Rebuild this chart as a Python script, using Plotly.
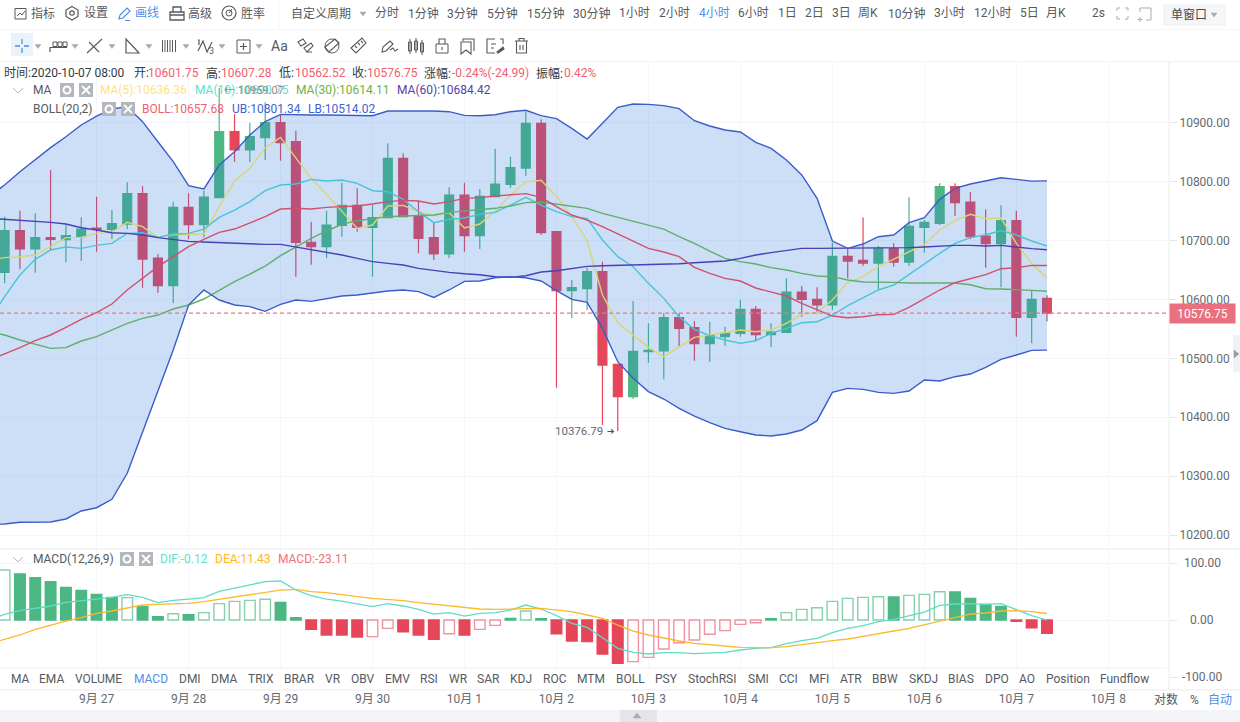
import re
import pandas as pd
import plotly.graph_objects as go
from plotly.subplots import make_subplots

W, H = 1240, 722
FONT = 'Roboto, "Noto Sans CJK SC", sans-serif'

# 4-hour bars, BTC/USDT style chart
times = pd.date_range("2020-09-25 20:00", periods=70, freq="4h")

opens = [10640, 10646.1, 10716.8, 10685.7, 10704.9, 10701.5, 10706.6, 10721.4, 10719.1, 10728.1, 10779.7, 10670.4, 10623.4, 10756.4, 10727.0,
         10772.9, 10884.9, 10853.8, 10874.7, 10900.2, 10867.9, 10697.0, 10689.7, 10725.9, 10759.8, 10722.5, 10738.9, 10839.6, 10741.2, 10704.9,
         10677.2, 10777.4, 10708.3, 10774.6, 10795.5, 10823.2, 10899.1, 10715.1, 10614.9, 10618.3, 10647.2, 10489.9, 10435.0, 10511.4, 10512.5,
         10569.1, 10552.1, 10524.9, 10536.8, 10542.5, 10583.2, 10540.2, 10544.2, 10612.7, 10600.2, 10590.6, 10673.2, 10666.4, 10661.9, 10686.2,
         10663.6, 10722.5, 10729.3, 10791.5, 10765.5, 10707.8, 10694.7, 10733.8, 10569.6, 10601.75]
highs = [10660, 10740.6, 10750.8, 10746.3, 10819.8, 10726.4, 10739.5, 10774.6, 10751.9, 10798.9, 10792.7, 10677.2, 10766.1, 10780.2, 10784.7,
         10959.07, 10915.0, 10900.2, 10935.0, 10913.2, 10886.6, 10731.5, 10750.8, 10798.3, 10788.7, 10760.4, 10865.1, 10848.1, 10767.2, 10730.4,
         10790.4, 10798.3, 10787.6, 10856.1, 10842.5, 10918.9, 10905.9, 10715.1, 10633.1, 10654.0, 10664.2, 10489.9, 10597.4, 10559.5, 10576.5,
         10576.5, 10563.4, 10562.3, 10553.8, 10599.1, 10588.9, 10559.5, 10635.9, 10622.9, 10620.6, 10696.4, 10686.8, 10739.4, 10690.8, 10695.3,
         10773.4, 10734.9, 10797.2, 10797.2, 10782.5, 10753.0, 10759.8, 10750.8, 10614.4, 10607.28]
lows = [10620, 10627.4, 10651.2, 10645.5, 10684.0, 10663.1, 10665.3, 10681.2, 10702.7, 10719.1, 10620.0, 10611.6, 10593.4, 10702.1, 10705.5,
        10772.9, 10834.0, 10832.9, 10836.8, 10835.7, 10638.7, 10659.1, 10669.9, 10706.6, 10715.1, 10638.7, 10737.8, 10740.6, 10678.3, 10667.0,
        10669.9, 10681.2, 10685.7, 10774.6, 10789.8, 10809.6, 10710.0, 10450.2, 10568.0, 10582.1, 10386.9, 10376.79, 10431.0, 10492.7, 10464.4,
        10521.0, 10496.1, 10494.4, 10521.0, 10536.8, 10530.0, 10518.7, 10544.2, 10570.8, 10576.4, 10582.1, 10635.9, 10656.8, 10617.2, 10655.7,
        10656.8, 10679.5, 10726.4, 10741.7, 10702.1, 10654.0, 10620.6, 10536.8, 10525.5, 10562.52]
closes = [10646, 10716.8, 10685.7, 10704.9, 10702.1, 10708.3, 10719.6, 10719.1, 10728.7, 10779.7, 10668.7, 10623.4, 10756.4, 10727.0, 10774.0,
          10884.9, 10853.8, 10876.4, 10900.2, 10866.3, 10697.0, 10689.7, 10726.4, 10759.8, 10722.5, 10738.9, 10839.6, 10740.6, 10703.8, 10677.2,
          10777.4, 10708.3, 10775.1, 10796.1, 10823.8, 10899.1, 10713.4, 10614.9, 10620.0, 10647.2, 10488.7, 10435.0, 10511.9, 10513.6, 10569.1,
          10551.0, 10524.9, 10538.5, 10542.5, 10583.2, 10540.2, 10544.8, 10612.7, 10600.2, 10590.6, 10673.2, 10665.3, 10661.9, 10686.8, 10663.6,
          10724.2, 10731.0, 10791.5, 10764.4, 10706.6, 10694.7, 10733.8, 10569.6, 10600.2, 10576.75]

ma5 = [10667, 10671, 10672.7, 10675.5, 10689.7, 10705, 10705.5, 10712.3, 10714, 10731, 10723.6, 10705.5, 10710, 10711.2, 10711.2,
       10757.6, 10801.2, 10822.7, 10857.8, 10875.3, 10839.6, 10805.7, 10778.5, 10749.1, 10720.8, 10726.4, 10758.7, 10759.8, 10749.1, 10742.3,
       10747.4, 10721.4, 10728.1, 10750.2, 10777.4, 10799.5, 10802.3, 10774.6, 10740.6, 10699.8, 10607.6, 10560.6, 10539.7, 10518.7, 10502.9,
       10518.7, 10535.7, 10539.7, 10544.2, 10548.2, 10545.3, 10548.2, 10559.5, 10574.8, 10578.2, 10599.1, 10629.1, 10638.7, 10655.7, 10668.7,
       10681.7, 10693.6, 10718, 10733.8, 10744.6, 10737.2, 10738.3, 10695.3, 10661.4, 10636.36]
ma10 = [10565, 10604.8, 10641.6, 10668.1, 10684, 10689.1, 10686.8, 10691.9, 10695.3, 10712.3, 10713.4, 10705.5, 10711.2, 10712.3, 10719.6,
        10739.5, 10751.9, 10766.1, 10784.7, 10794.4, 10796.1, 10804, 10801.2, 10802.9, 10797.2, 10784.7, 10783, 10770, 10749.1, 10730.4,
        10736.1, 10738.3, 10744.6, 10748, 10760.4, 10773.4, 10760.4, 10749.1, 10740.6, 10737.8, 10701, 10672.7, 10655.7, 10627.4, 10601.9,
        10570.8, 10549.3, 10538.5, 10531.2, 10525.5, 10530, 10542.5, 10551, 10560.6, 10562.3, 10573.6, 10589.5, 10602.5, 10616.1, 10624.6,
        10642.7, 10661.4, 10678.3, 10695.3, 10705, 10710, 10716.8, 10709.5, 10699.3, 10690.75]
ma30 = [10545, 10539.7, 10531.2, 10523.8, 10517, 10518.2, 10529.5, 10536.8, 10548.2, 10559.5, 10568, 10573.6, 10583.8, 10590.6, 10600.8,
        10616.1, 10630.2, 10643.2, 10656.8, 10674.4, 10689.7, 10703.8, 10716.3, 10727.6, 10733.8, 10737.8, 10740.6, 10741.7, 10742.3, 10743.4,
        10748, 10750.2, 10753, 10754.8, 10758.7, 10764.4, 10765.5, 10762.1, 10758.7, 10754.8, 10746.3, 10739.5, 10733.2, 10726.4, 10719.6,
        10706.6, 10695.3, 10682.3, 10669.9, 10664.2, 10660.2, 10654, 10650, 10644.4, 10639.9, 10638.7, 10633.1, 10629.6, 10629.6, 10629.1,
        10628, 10628, 10628, 10628, 10625.1, 10618.3, 10617.8, 10616.1, 10615.5, 10614.11]
ma60 = [10738, 10736.1, 10734.4, 10733.2, 10731, 10728.1, 10721.9, 10718, 10713.4, 10712.3, 10709.5, 10705, 10702.1, 10698.7, 10697.6,
        10696.4, 10694.8, 10694.2, 10693.6, 10693.6, 10689.1, 10685.1, 10681.2, 10675.5, 10669.9, 10664.2, 10661.4, 10658.5, 10652.9, 10648.9,
        10646.1, 10643.8, 10642.1, 10638.7, 10637.6, 10640.4, 10646.6, 10648.9, 10652.3, 10656.3, 10657.4, 10658, 10658.5, 10658.5, 10659.1,
        10660.8, 10662.5, 10664.2, 10665.3, 10669.9, 10675.5, 10679.5, 10682.9, 10686.8, 10686.8, 10686.8, 10686.8, 10686.8, 10686.8, 10687.4,
        10688, 10689.1, 10690.8, 10691.9, 10691.9, 10690.8, 10691.9, 10688.5, 10686.3, 10684.42]
boll_mid = [10497, 10507.4, 10518.2, 10530, 10539.7, 10552.7, 10566.3, 10577.6, 10592.3, 10616.1, 10635.9, 10655.7, 10672.7, 10689.7, 10702.1,
            10714, 10719.6, 10730.4, 10740.6, 10753.6, 10754.8, 10753.6, 10756.4, 10757.6, 10758.7, 10762.1, 10766.1, 10768.3, 10767.2, 10762.1,
            10766.1, 10771.7, 10772.9, 10775.7, 10777.9, 10779.7, 10773.4, 10757.6, 10743.4, 10734.9, 10723.6, 10711.2, 10698.2, 10686.8, 10680.6,
            10672.7, 10654.6, 10644.4, 10635.9, 10631.4, 10619.5, 10612.1, 10605.9, 10593.4, 10583.2, 10571.9, 10569.1, 10570.8, 10574.2, 10574.8,
            10586.6, 10601.9, 10616.1, 10628.5, 10634.8, 10642.1, 10652.3, 10654, 10658, 10657.68]
boll_upper = [10774.6, 10794.4, 10817, 10838, 10857.8, 10876.4, 10896.3, 10911.5, 10923.4, 10927.4, 10901.9, 10867.9, 10834, 10793.2, 10787.6,
              10828.3, 10851, 10879.3, 10901.9, 10914.4, 10913.2, 10913.2, 10913.2, 10913.2, 10912.1, 10912.1, 10920, 10920, 10920.6, 10920,
              10918.9, 10912.7, 10912.1, 10913.8, 10918.9, 10921.2, 10912.1, 10907, 10890.6, 10872.5, 10899.1, 10926.2, 10931.9, 10931.3, 10929.1,
              10924, 10903.6, 10894.6, 10887.8, 10884.4, 10866.8, 10856.6, 10836.8, 10811.4, 10771.7, 10699.3, 10686.8, 10694.2, 10706.6, 10709.5,
              10730.4, 10738.9, 10770, 10788.7, 10796.1, 10801.7, 10806.8, 10804, 10801, 10801.34]
boll_lower = [10218, 10218.8, 10221.7, 10222.2, 10222.2, 10227.3, 10240.9, 10246.4, 10260.7, 10304.9, 10375.5, 10443.4, 10514.2, 10590.6, 10616.1,
              10599.1, 10590.6, 10587.8, 10579.9, 10591.7, 10599.1, 10596.8, 10600.8, 10605.9, 10607.6, 10611.6, 10614.4, 10616.1, 10613.3, 10603.6,
              10616.1, 10630.8, 10631.4, 10637, 10638.7, 10637, 10631.4, 10615, 10600.2, 10595.1, 10551, 10494.4, 10466.2, 10443.5, 10431,
              10415.2, 10402.1, 10390.8, 10381.2, 10375.5, 10369.9, 10368.2, 10371.6, 10378.4, 10394.2, 10442.3, 10449.1, 10447.4, 10442.3, 10440.6,
              10444.6, 10463.3, 10461.6, 10468.9, 10473.4, 10484.8, 10498.4, 10505.7, 10513.6, 10514.02]

macd_hist = [95, 87.7, 80.7, 74.3, 67.3, 57.3, 52, 45, 39.8, 39.2, 23.4, 5.8, 11.1, 9.4, 12.9,
             28.7, 32.7, 34.5, 36.3, 31, 4.1, -16.4, -26.3, -26.3, -29.8, -29.2, -14.6, -20.5, -26.3, -33.9,
             -24, -26.3, -16.4, -9.4, 2.9, 15.8, 2.3, -24, -36.8, -38, -59.6, -76, -73.1, -65.5, -50.9,
             -39.8, -35.1, -25.1, -18.7, -7.6, -4.7, 2.3, 12.9, 18.7, 21.6, 32.7, 38, 39.8, 40.9, 40.4,
             43.3, 45, 49.7, 49.1, 38, 27.5, 24, -2.3, -13.5, -23.11]
macd_hollow = [1, 1, 0, 0, 0, 0, 0, 0, 0, 1, 0, 0, 1, 0, 1,
               1, 1, 1, 1, 0, 0, 0, 0, 0, 0, 1, 1, 0, 0, 0,
               1, 0, 1, 1, 0, 1, 0, 0, 0, 0, 0, 0, 1, 1, 1,
               1, 1, 1, 1, 1, 1, 0, 1, 1, 1, 1, 1, 1, 1, 0,
               1, 1, 1, 0, 0, 0, 0, 0, 0, 0]
dif = [0, 9.9, 16.4, 20.5, 24.6, 31, 33.9, 38, 39.8, 44.4, 39.8, 30.4, 34.5, 36.8, 39.2,
       50.3, 55.6, 61.4, 67.3, 68.4, 52.6, 42.7, 36.8, 33.3, 28.1, 23.4, 28.7, 24.6, 18.7, 10.5,
       12.9, 7, 11.7, 12.9, 17.5, 26.3, 19.3, 7.6, -5.8, -12.9, -31, -49.7, -56.7, -59.6, -57.3,
       -57.3, -59.1, -58.5, -56.7, -52.6, -49.7, -48.5, -41.5, -36.3, -32.2, -22.2, -14.6, -9.9, -2.9, 1.2,
       7.6, 14, 25.7, 28.1, 28.7, 27.5, 28.7, 17.5, 7.6, -0.12]
dea = [-41.5, -33.3, -26.3, -16.4, -8.8, -1.8, 4.1, 11.7, 15.8, 20.5, 26.3, 27.5, 28.1, 29.2, 32.2,
       36.3, 39.8, 45, 49.1, 52.6, 53.8, 49.7, 48, 43.9, 40.9, 38, 36.3, 33.9, 30.4, 27.5,
       24.6, 21.6, 19.3, 18.7, 18.7, 19.9, 20.5, 17.5, 14.6, 8.8, 2.9, -8.8, -19.3, -26.3, -32.2,
       -36.8, -40.9, -43.9, -45.6, -48, -48.5, -48.5, -46.8, -43.9, -39.8, -36.3, -33.3, -28.7, -23.4, -19.3,
       -14.6, -8.8, -2.9, 4.1, 10.5, 12.3, 15.8, 16.4, 14.6, 11.43]

price_ticks = [10200, 10300, 10400, 10500, 10600, 10700, 10800, 10900]
macd_ticks = [100, 0, -100]
day_ticks = ["2020-09-27", "2020-09-28", "2020-09-29", "2020-09-30", "2020-10-01", "2020-10-02",
             "2020-10-03", "2020-10-04", "2020-10-05", "2020-10-06", "2020-10-07", "2020-10-08"]
day_labels = ["9月 27", "9月 28", "9月 29", "9月 30", "10月 1", "10月 2",
              "10月 3", "10月 4", "10月 5", "10月 6", "10月 7", "10月 8"]
last_price = 10576.75

UP, DOWN = "#4cb782", "#e5465a"
UP_EDGE, DOWN_EDGE = "#86d0ac", "#f0939f"
GRID = "#f4f6fb"
TEXT = "#555a60"
BLUE_TXT = "#4f8fe8"
RED_TXT = "#f0606f"

fig = make_subplots(rows=2, cols=1, shared_xaxes=True)

fig.add_trace(go.Candlestick(
    x=times, open=opens, high=highs, low=lows, close=closes,
    increasing=dict(line=dict(color=UP, width=1.2), fillcolor=UP),
    decreasing=dict(line=dict(color=DOWN, width=1.2), fillcolor=DOWN),
    whiskerwidth=0, hoverinfo="skip"), row=1, col=1)

# Bollinger band sits on top of the candles and tints them
fig.add_trace(go.Scatter(x=times, y=boll_lower, mode="lines", line=dict(width=0), hoverinfo="skip"), row=1, col=1)
fig.add_trace(go.Scatter(x=times, y=boll_upper, mode="lines", line=dict(width=0), fill="tonexty",
                         fillcolor="rgba(41,120,220,0.235)", hoverinfo="skip"), row=1, col=1)

for series, color in [(ma5, "#d8d572"), (ma10, "#48c4d8"), (ma30, "#5fae6c"), (ma60, "#4a3fb5"),
                      (boll_mid, "#d2506c"), (boll_upper, "#3c5cc8"), (boll_lower, "#3c5cc8")]:
    fig.add_trace(go.Scatter(x=times, y=series, mode="lines", line=dict(color=color, width=1.4),
                             hoverinfo="skip"), row=1, col=1)

bar_fill = ["#ffffff" if h else (UP if v >= 0 else DOWN) for v, h in zip(macd_hist, macd_hollow)]
bar_edge = [(UP_EDGE if v >= 0 else DOWN_EDGE) if h else (UP if v >= 0 else DOWN)
            for v, h in zip(macd_hist, macd_hollow)]
fig.add_trace(go.Bar(x=times, y=macd_hist, width=4 * 3600 * 1000 * 0.69,
                     marker=dict(color=bar_fill, line=dict(color=bar_edge, width=1.4)),
                     hoverinfo="skip"), row=2, col=1)
fig.add_trace(go.Scatter(x=times, y=dif, mode="lines", line=dict(color="#5fdcc6", width=1.3), hoverinfo="skip"), row=2, col=1)
fig.add_trace(go.Scatter(x=times, y=dea, mode="lines", line=dict(color="#fbb92c", width=1.3), hoverinfo="skip"), row=2, col=1)


def fx(x):
    return x / W


def fy(y):
    return 1 - y / H


shapes, notes = [], []


def rect(x0, y0, x1, y1, fill=None, line=None, lw=1):
    shapes.append(dict(type="rect", xref="paper", yref="paper", x0=fx(x0), x1=fx(x1), y0=fy(y0), y1=fy(y1),
                       fillcolor=fill or "rgba(0,0,0,0)", line=dict(color=line or "rgba(0,0,0,0)", width=lw if line else 0),
                       layer="above"))


def circle(cx, cy, r, line, lw=1.2, fill=None):
    shapes.append(dict(type="circle", xref="paper", yref="paper", x0=fx(cx - r), x1=fx(cx + r),
                       y0=fy(cy + r), y1=fy(cy - r), fillcolor=fill or "rgba(0,0,0,0)",
                       line=dict(color=line, width=lw), layer="above"))


def path(d, color="#55595f", lw=1.2, fill=None):
    # d is written in page pixels; coordinates alternate x, y
    nums = iter(range(10 ** 6))
    out = re.sub(r"-?\d+(?:\.\d+)?",
                 lambda m: f"{fx(float(m.group())):.5f}" if next(nums) % 2 == 0 else f"{fy(float(m.group())):.5f}", d)
    shapes.append(dict(type="path", xref="paper", yref="paper", path=out,
                       fillcolor=fill or "rgba(0,0,0,0)", line=dict(color=color, width=lw), layer="above"))


def label(x, y, text, color=TEXT, size=12, anchor="left"):
    notes.append(dict(xref="paper", yref="paper", x=fx(x), y=fy(y), text=text, showarrow=False,
                      xanchor=anchor, yanchor="middle", borderpad=0, borderwidth=0,
                      font=dict(family=FONT, size=size, color=color)))


def caret(x, y, color="#a6a9ae"):
    path(f"M {x - 3} {y - 2} L {x + 3} {y - 2} L {x} {y + 2} Z", color=color, lw=0.5, fill=color)


def chevron(x, y):
    path(f"M {x - 5} {y - 2} L {x} {y + 3} L {x + 5} {y - 2}", color="#b5b8bc", lw=1)


def gear_box(x, y):
    rect(x - 7, y - 7, x + 7, y + 7, fill="#b3b6bc")
    circle(x, y, 3.5, "#ffffff", lw=2)


def close_box(x, y):
    rect(x - 7, y - 7, x + 7, y + 7, fill="#b3b6bc")
    path(f"M {x - 4} {y - 4} L {x + 4} {y + 4} M {x + 4} {y - 4} L {x - 4} {y + 4}", color="#ffffff", lw=1.8)


# page furniture: rules, strips and panel edges
rect(0, 668, 1167, 690, fill="#ffffff")
for y, color in [(29.5, "#f4f5f7"), (61.5, "#f1f2f5"), (549, "#e9ebee"), (668, "#eef0f2"), (690, "#e9ebee")]:
    path(f"M 0 {y} L 1240 {y}" if y != 668 else f"M 0 {y} L 1167 {y}", color=color, lw=1)
path("M 279 0 L 279 29", color="#f4f5f7", lw=1)
path("M 1169 62 L 1169 690", color="#e9ebee", lw=1)
rect(0, 710, 1240, 722, fill="#f3f5f8")
rect(620, 710, 657, 722, fill="#e3e5e9")
path("M 633 718 L 641 718 L 637 713 Z", color="#a9abb0", lw=0.5, fill="#a9abb0")
rect(1233, 335, 1240, 372, fill="#f0f2f5")
path("M 1234 350 L 1239 354 L 1234 358 Z", color="#9a9da2", lw=0.5, fill="#9a9da2")

# top toolbar
rect(15, 8.5, 26, 19, line="#55595f")
path("M 17 16 L 20 13 L 22 15 L 25 11", lw=1)
path("M 72 6.5 L 78 10 L 78 16.5 L 72 20 L 66 16.5 L 66 10 Z")
circle(72, 13, 2.2, "#55595f")
path("M 119 19 L 120 15 L 127 8 L 130 11 L 123 18 Z M 125 20.5 L 130 20.5", color=BLUE_TXT)
rect(170, 12, 184, 20, line="#55595f", lw=1.3)
path("M 173 12 L 173 7 L 181 7 L 181 12 M 170 15 L 184 15", lw=1.3)
circle(229, 13, 7, "#55595f")
circle(229, 13, 3, "#55595f", lw=1)
path("M 229 13 L 232 9", lw=1)

for text, x, color in [("指标", 31, TEXT), ("设置", 84, TEXT), ("画线", 135, BLUE_TXT), ("高级", 188, TEXT),
                       ("胜率", 241, TEXT), ("自定义周期", 291, TEXT), ("分时", 375, TEXT), ("1分钟", 408, TEXT),
                       ("3分钟", 447, TEXT), ("5分钟", 487, TEXT), ("15分钟", 527, TEXT), ("30分钟", 573, TEXT),
                       ("1小时", 619, TEXT), ("2小时", 659, TEXT), ("4小时", 699, BLUE_TXT), ("6小时", 738, TEXT),
                       ("1日", 778, TEXT), ("2日", 805, TEXT), ("3日", 832, TEXT), ("周K", 858, TEXT),
                       ("10分钟", 888, TEXT), ("3小时", 934, TEXT), ("12小时", 974, TEXT), ("5日", 1020, TEXT),
                       ("月K", 1046, TEXT), ("2s", 1092, TEXT)]:
    label(x, 13.5, text, color)
caret(363, 14)
path("M 1117 11 L 1117 8 L 1120 8 M 1125 8 L 1128 8 L 1128 11 M 1128 16 L 1128 19 L 1125 19 M 1120 19 L 1117 19 L 1117 16", color="#a8abb0", lw=1)
path("M 1140 8 L 1151 8 L 1151 20 L 1146 20 M 1140 8 L 1140 12", color="#a8abb0", lw=1)
path("M 1140 17 L 1140 22 M 1137.5 19.5 L 1142.5 19.5", color="#a8abb0", lw=1)
rect(1164, 5, 1225, 25, fill="#f5f6f8", line="#eceef1")
label(1171, 15, "单窗口", "#444a50", 12)
caret(1214, 15)

# drawing tools row
rect(11, 33, 33, 56, fill="#eaf3fc")
path("M 15 46 L 20 46 M 24 46 L 29 46 M 22 39 L 22 44 M 22 48 L 22 53", color=BLUE_TXT, lw=1.3)
for x in [38, 75, 112, 149, 186, 222, 259]:
    caret(x, 46.5)
path("M 50 52 L 50 47.5 L 67 47.5")
rect(53, 42, 57, 46.5, line="#55595f", lw=1)
rect(58, 42, 62, 46.5, line="#55595f", lw=1)
rect(63, 42, 67, 46.5, line="#55595f", lw=1)
path("M 87 53 L 102 39 M 89 42 L 99 52", lw=1.1)
path("M 126 39 L 126 53 L 139 53 Z")
for x in [162.5, 165, 167.5, 170, 172.5, 175.5]:
    path(f"M {x} 40 L {x} 52", lw=1)
path("M 198 40 L 199 40 L 199 45 M 198 51 L 203 41 L 207 52 L 212 42")
label(209, 51, "3", "#55595f", 9)
rect(237, 40, 250, 53, line="#55595f")
path("M 243.5 43 L 243.5 50 M 240 46.5 L 247 46.5")
label(279, 46, "Aa", "#55595f", 14, "center")
path("M 298 42 L 303 39 L 306 43 L 301 46 Z M 304 48 L 311 43 L 313 46 L 307 52 Z M 306 52 L 312 52", lw=1.1)
path("M 325 47 L 335 39 L 339 43 L 329 52 Z", lw=1.1)
circle(332, 46, 7, "#55595f", lw=1)
path("M 351 48 L 362 38 L 366 43 L 356 53 Z M 355 46 L 357 48 M 358 43 L 360 45 M 361 41 L 363 43", lw=1.1)
path("M 382 52 L 383 47 L 390 41 L 393 44 L 386 51 Z M 390 50 L 393 48 L 395 51 L 398 49", lw=1.1)
for x, top, bot in [(410, 42, 51), (416, 41, 50), (422, 43, 52)]:
    rect(x - 1.5, top, x + 1.5, bot, line="#55595f", lw=1)
    path(f"M {x} {top - 3} L {x} {bot + 3}", lw=1)
rect(436, 44, 448, 53, line="#55595f")
path("M 439 44 L 439 39 L 445 39 L 445 44 M 442 47 L 442 50", lw=1.1)
path("M 463 41 L 463 39 L 474 39 L 474 51 M 461 42 L 471 42 L 471 54 L 466 50 L 461 54 Z", lw=1.1)
path("M 495 39 L 487 39 L 487 53 L 495 53 M 500 39 L 503 39 L 503 44 M 491 44 L 496 44 M 491 48 L 494 48", lw=1.1)
path("M 497 52 L 503 47 L 504 49 L 498 53 Z", lw=1.1, fill="#55595f")
path("M 515 41 L 528 41 M 519 41 L 519 38.5 L 524 38.5 L 524 41 M 516.5 41 L 516.5 53 L 526.5 53 L 526.5 41 M 520 45 L 520 50 M 523 45 L 523 50", lw=1.1)

# readout rows
label(4, 73, "时间:2020-10-07 08:00", "#333a40")
for text, x in [("开:", 133.5), ("高:", 206), ("低:", 279), ("收:", 352), ("涨幅:", 424), ("振幅:", 536)]:
    label(x, 73, text, "#333a40")
for text, x in [("10601.75", 148), ("10607.28", 220.5), ("10562.52", 294.5), ("10576.75", 367),
                ("-0.24%(-24.99)", 452), ("0.42%", 564)]:
    label(x, 73, text, RED_TXT)

chevron(18, 90)
label(33, 90, "MA", "#555a60")
gear_box(67, 90)
close_box(86, 90)
label(100, 90, "MA(5):10636.36", "#ffe27a")
label(194.5, 90, "MA(10):10690.75", "#5fe0cc")
label(295.7, 90, "MA(30):10614.11", "#6cb33e")
label(397, 90, "MA(60):10684.42", "#5a3ea8")
label(33, 109, "BOLL(20,2)", "#555a60")
gear_box(109, 109)
close_box(128, 109)
label(141.5, 109, "BOLL:10657.68", "#ef5f72")
label(232, 109, "UB:10801.34", "#3f62d0")
label(307.5, 109, "LB:10514.02", "#3f62d0")

chevron(18, 559)
label(33, 559, "MACD(12,26,9)", "#555a60")
gear_box(127, 559)
close_box(146, 559)
label(160, 559, "DIF:-0.12", "#5fe0cc")
label(214.6, 559, "DEA:11.43", "#ffb820")
label(277.5, 559, "MACD:-23.11", "#ef6f80")

# indicator tabs
for text, x in [("MA", 11), ("EMA", 39), ("VOLUME", 75), ("MACD", 134), ("DMI", 179), ("DMA", 211), ("TRIX", 248),
                ("BRAR", 284), ("VR", 325), ("OBV", 351), ("EMV", 385), ("RSI", 420), ("WR", 449), ("SAR", 477),
                ("KDJ", 510), ("ROC", 543), ("MTM", 577), ("BOLL", 616), ("PSY", 655), ("StochRSI", 688), ("SMI", 748),
                ("CCI", 779), ("MFI", 809), ("ATR", 840), ("BBW", 872), ("SKDJ", 909), ("BIAS", 948), ("DPO", 985),
                ("AO", 1019), ("Position", 1046), ("Fundflow", 1100)]:
    label(x, 678.5, text, BLUE_TXT if text == "MACD" else TEXT)
label(1154, 699.5, "对数", TEXT)
label(1190, 699.5, "%", TEXT)
label(1208, 699.5, "自动", BLUE_TXT)

# markers tied to the price scale
notes.append(dict(x=times[41], y=lows[41], xref="x", yref="y", text="10376.79", showarrow=False,
                  xanchor="right", xshift=-13, font=dict(family=FONT, size=11.5, color="#666a70")))
notes.append(dict(x=times[41], y=lows[41], xref="x", yref="y", text="➔", showarrow=False,
                  xanchor="right", xshift=-1, font=dict(family="DejaVu Sans", size=9, color="#444a50")))
notes.append(dict(x=times[15], y=highs[15], xref="x", yref="y", text="← 10959.07", showarrow=False,
                  xanchor="left", xshift=3, yshift=-2, font=dict(family=FONT, size=11, color="#8a8d92")))
notes.append(dict(x=fx(1168.5), y=last_price, xref="paper", yref="y", text="10576.75", showarrow=False,
                  xanchor="left", width=65, height=19, align="center", bgcolor="#e9707f", borderpad=0,
                  font=dict(family=FONT, size=12, color="#ffffff")))
shapes.append(dict(type="line", xref="paper", yref="y", x0=0, x1=fx(1169), y0=last_price, y1=last_price,
                   line=dict(color="#ee7784", width=1.2, dash="4px,3px"), layer="above"))
for v in macd_ticks:
    notes.append(dict(x=fx(1202), y=v, xref="paper", yref="y2", text=f"{v:.2f}", showarrow=False, xanchor="center",
                      font=dict(family=FONT, size=12, color="#666a70")))

xrange = ["2020-09-25 22:48", "2020-10-08 15:50"]
xaxis_common = dict(range=xrange, domain=[0, 1169 / W], showgrid=True, gridcolor=GRID, gridwidth=1, zeroline=False,
                    showline=False, tickvals=day_ticks, ticktext=day_labels, ticks="", rangeslider=dict(visible=False),
                    tickfont=dict(family=FONT, size=12, color="#666a70"), fixedrange=True)
fig.update_layout(
    width=W, height=H, autosize=False, margin=dict(l=0, r=0, t=0, b=0),
    paper_bgcolor="#ffffff", plot_bgcolor="#ffffff", showlegend=False,
    boxgap=0.42, boxgroupgap=0, boxmode="overlay", bargap=0.3,
    font=dict(family=FONT), shapes=shapes, annotations=notes,
    xaxis=dict(**xaxis_common, anchor="y", showticklabels=False),
    xaxis2=dict(**xaxis_common, anchor="y2", matches="x", showticklabels=True),
    yaxis=dict(domain=[fy(549), fy(62)], range=[10800 - (549 - 181.7) * 1.698, 10800 + (181.7 - 62) * 1.698],
               side="right", anchor="x", tickvals=price_ticks, tickformat=".2f", ticks="outside", ticklen=7,
               tickcolor="#e3e5e9", gridcolor=GRID, zeroline=False, showline=False, fixedrange=True,
               tickfont=dict(family=FONT, size=12, color="#666a70")),
    yaxis2=dict(domain=[fy(690), fy(549)], range=[-122.8, 124.6], side="right", anchor="x2", tickvals=macd_ticks,
                ticks="outside", ticklen=7, tickcolor="#e3e5e9", showticklabels=False, gridcolor=GRID,
                zeroline=False, showline=False, fixedrange=True),
)

fig.write_html("out.html", config=dict(displayModeBar=False))
